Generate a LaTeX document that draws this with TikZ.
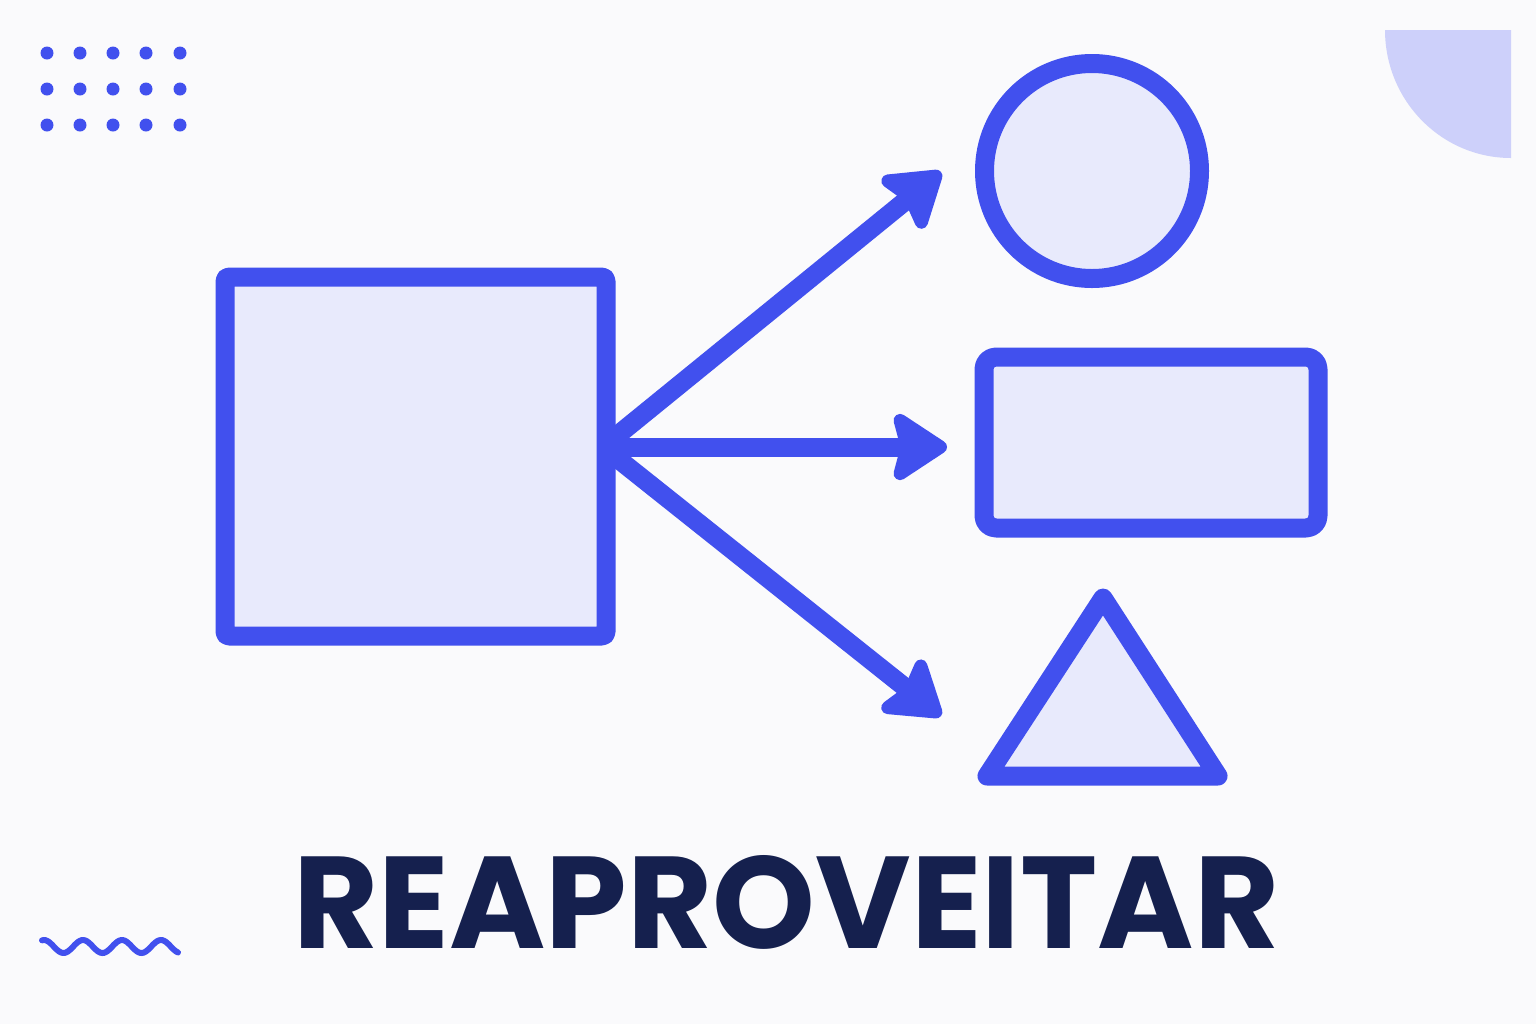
\documentclass[tikz,border=0pt]{standalone}
\usepackage{fontspec}
\newfontfamily\titlefont{Poppins}
\usetikzlibrary{arrows.meta}
\definecolor{accent}{RGB}{65,80,238}
\definecolor{lightfill}{RGB}{232,234,252}
\definecolor{cornerfill}{RGB}{205,208,250}
\definecolor{bgc}{RGB}{250,250,252}
\definecolor{navy}{RGB}{21,32,78}
\begin{document}
\begin{tikzpicture}[x=0.5pt,y=-0.5pt,
  shapeline/.style={draw=accent, line width=9.5pt, fill=lightfill, line join=round, inner sep=0pt, outer sep=0pt},
  link/.style={draw=accent, line width=9.5pt,
    -{Stealth[length=31pt,width=40pt,inset=5pt,round,line width=8pt]}},
  dotmark/.style={fill=accent},
  wavemark/.style={draw=accent, line width=3pt, line cap=round}]
\useasboundingbox (0,0) rectangle (1536,1024);
\fill[bgc] (0,0) rectangle (1536,1024);

% dot grid
\foreach \xx in {47,80,113,146,180}
  \foreach \yy in {53,89,125}
    \fill[dotmark] (\xx,\yy) circle[radius=6.5];

% corner quarter disc
\fill[cornerfill] (1511,30) -- (1385,30) arc[x radius=126, y radius=128, start angle=180, end angle=90] -- cycle;

% wave
\draw[wavemark] plot[domain=42:178, samples=80, smooth] (\x, {946.5-6.5*cos(9.2308*(\x-44))});

% arrow coordinates
\coordinate (hub) at (603,447);
\coordinate (tipA) at (941,172);
\coordinate (tipB) at (947,447);
\coordinate (tipC) at (941,716);
\draw[link] (hub) -- (tipA);
\draw[link] (hub) -- (tipB);
\draw[link] (hub) -- (tipC);

% source square
\node[shapeline, rectangle, rounded corners=2pt, minimum width=190.5pt, minimum height=179.5pt] (src) at (415.5,456.5) {};

% circle
\node[shapeline, circle, minimum size=107.5pt] (circ) at (1092,171) {};

% rounded rectangle
\node[shapeline, rectangle, rounded corners=6pt, minimum width=167pt, minimum height=85.5pt] (rect) at (1151,442.5) {};

% triangle
\coordinate (triA) at (1103,598);
\coordinate (triB) at (1218,776);
\coordinate (triC) at (987,776);
\draw[shapeline] (triA) -- (triB) -- (triC) -- cycle;

% title
\node[anchor=south west, inner sep=0pt, text=navy] (title) at (293,950)
  {\resizebox{493pt}{46.5pt}{\titlefont\bfseries REAPROVEITAR}};
\end{tikzpicture}
\end{document}
